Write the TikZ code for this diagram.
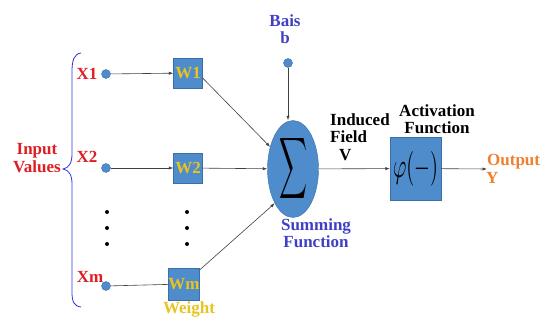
\documentclass[tikz,border=0pt]{standalone}
\usepackage{fontspec}
\usepackage{graphicx}
\setmainfont{Liberation Serif}
\usetikzlibrary{shapes.geometric,arrows.meta}

\definecolor{boxblue}{RGB}{79,140,203}
\definecolor{boxedge}{RGB}{60,110,170}
\definecolor{wgold}{RGB}{232,196,30}
\definecolor{labred}{RGB}{222,30,36}
\definecolor{labblue}{RGB}{64,64,196}
\definecolor{bracecol}{RGB}{50,50,220}
\definecolor{outorange}{RGB}{240,128,48}
\definecolor{wire}{RGB}{64,64,64}

\tikzset{
  txt/.style={font=\fontsize{17}{18.5}\selectfont\bfseries, inner sep=0pt, align=center},
  wbox/.style={rectangle, fill=boxblue, draw=boxedge, line width=0.3pt,
               minimum width=29pt, minimum height=30pt, inner sep=0pt,
               text=wgold, font=\fontsize{17}{18.5}\selectfont\bfseries},
  pin/.style={circle, fill=boxblue, draw=boxedge, line width=0.4pt,
              minimum size=9pt, inner sep=0pt},
  dotpt/.style={circle, fill=black, minimum size=4pt, inner sep=0pt},
  link/.style={draw=wire, line width=0.6pt},
  arr/.style={link, -{Latex[length=4.5pt,width=3.2pt]}},
}

\begin{document}
\begin{tikzpicture}[x=1pt, y=-1pt]
\useasboundingbox (0,0) rectangle (540,320);

% input side brace
\draw[bracecol, line width=0.8pt]
  (81,53) .. controls (74,54) and (72,60) .. (72,72) -- (72,154)
  .. controls (72,163) and (69,168) .. (63,169)
  .. controls (69,170) and (72,175) .. (72,184) -- (72,292)
  .. controls (72,302) and (74,306) .. (81,307);
\node[txt, text=labred] (inlab) at (37,158) {Input\\[-1pt]Values};

% input pins and labels
\node[pin] (x1) at (106,74) {};
\node[pin] (x2) at (106,168) {};
\node[pin] (xm) at (106,286) {};
\node[txt, text=labred] (x1lab) at (87,74) {X1};
\node[txt, text=labred] (x2lab) at (87,157) {X2};
\node[txt, text=labred] (xmlab) at (90,277) {Xm};

% weights
\node[wbox] (w1) at (188,73) {W1};
\node[wbox] (w2) at (188,168) {W2};
\node[wbox, minimum height=32pt] (wm) at (184,284) {Wm};
\node[txt, text=wgold] (wlab) at (189,309) {Weight};

% ellipsis dots
\foreach \y [count=\i] in {212,228,244} {
  \node[dotpt] (dx\i) at (107,\y) {};
  \node[dotpt] (dw\i) at (187,\y) {};
}

% input wires
\draw[arr] (x1) -- (w1);
\draw[arr] (x2) -- (w2);
\draw[link] (xm) -- (wm);

% summing junction
\node[ellipse, fill=boxblue, draw=boxedge, line width=0.4pt,
      minimum width=51pt, minimum height=64pt, inner sep=0pt] (sum) at (293,169)
  {\resizebox{28pt}{45pt}{$\displaystyle\sum$}};
\node[txt, text=labblue] (sumlab) at (316,233) {Summing\\[-1pt]Function};

% bias
\node[pin] (bias) at (288,63) {};
\node[txt, text=labblue] (biaslab) at (285,29) {Bais\\[-1pt]b};

% weighted wires into the sum
\draw[arr] (w1.east) ++(0,5) coordinate (w1o) (w1o) -- (sum.136);
\draw[arr] (w2) -- (sum);
\draw[arr] (wm.north east) ++(0,2) coordinate (wmo) (wmo) -- (sum.242);
\draw[arr] (bias) -- (bias |- sum.north);

% activation
\node[rectangle, fill=boxblue, draw=boxedge, line width=0.3pt,
      minimum width=51pt, minimum height=63pt, inner sep=0pt] (act) at (415.5,168.5)
  {\resizebox{45pt}{26pt}{$\varphi(-)$}};
\node[txt, align=left, anchor=west] (fieldlab) at (330,137)
  {Induced\\[-1pt]Field\\[-1pt]\hspace*{9pt}V};
\node[txt] (actlab) at (437,119) {Activation\\[-1pt]Function};

% output
\coordinate (yend) at (487,169);
\draw[arr] (sum) -- (act);
\draw[arr] (act) -- (yend);
\node[txt, text=outorange, align=left, anchor=west] (outlab) at (486,169)
  {\hspace*{1pt}Output\\[-1pt]Y};
\end{tikzpicture}
\end{document}
